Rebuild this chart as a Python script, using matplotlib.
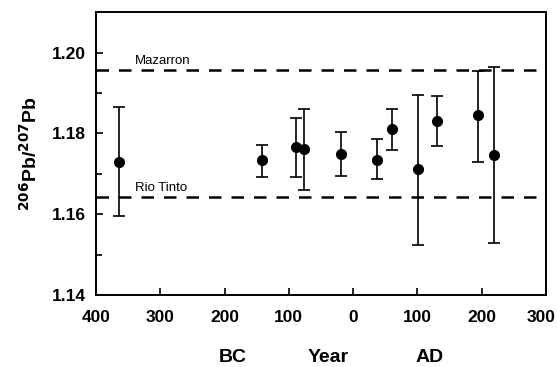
import matplotlib
matplotlib.use("Agg")
import matplotlib.pyplot as plt
import numpy as np
from matplotlib.ticker import FixedLocator

plt.rcParams['font.family'] = ['Liberation Sans', 'DejaVu Sans']

# Sample dates (negative = BC) and 206Pb/207Pb ratios with error bounds
years = [-364, -142, -89, -77, -19, 37, 61, 101, 130, 195, 219]
ratio = [1.1730, 1.1733, 1.1767, 1.1762, 1.1750, 1.1735, 1.1810, 1.1712, 1.1831, 1.1845, 1.1746]
upper = [1.1865, 1.1772, 1.1839, 1.1861, 1.1804, 1.1787, 1.1861, 1.1896, 1.1892, 1.1955, 1.1964]
lower = [1.1596, 1.1693, 1.1693, 1.1661, 1.1695, 1.1686, 1.1759, 1.1524, 1.1768, 1.1730, 1.1528]

# Ore-field reference ratios
ore_names = ["Mazarron", "Rio Tinto"]
ore_ratio = [1.1958, 1.1642]

x_ticks = [-400, -300, -200, -100, 0, 100, 200, 300]
x_ticklabels = ["400", "300", "200", "100", "0", "100", "200", "300"]
y_ticks = [1.14, 1.16, 1.18, 1.20]
y_ticklabels = ["1.14", "1.16", "1.18", "1.20"]

fig = plt.figure(figsize=(5.57, 3.67), dpi=100)
ax = fig.add_axes([0.1724, 0.196, 0.8076, 0.771])

ratio = np.array(ratio)
yerr = np.array([ratio - np.array(lower), np.array(upper) - ratio])
ax.errorbar(years, ratio, yerr=yerr, fmt='o', color='black', ms=7,
            elinewidth=1.2, capsize=4.5, capthick=1.2, zorder=3)

for name, val in zip(ore_names, ore_ratio):
    ax.axhline(val, color='black', lw=1.8, dashes=(5, 4), zorder=2)
    ax.text(-340, val + 0.0007, name, fontsize=9.5, ha='left', va='bottom')

ax.set_xlim(-400, 300)
ax.set_ylim(1.14, 1.21)
ax.xaxis.set_major_locator(FixedLocator(x_ticks))
# the last year label is drawn separately so it can hug the canvas edge
ax.set_xticklabels(x_ticklabels[:-1] + [""])
ax.yaxis.set_major_locator(FixedLocator(y_ticks))
ax.set_yticklabels(y_ticklabels)
ax.yaxis.set_minor_locator(FixedLocator([1.15, 1.17, 1.19]))

ax.tick_params(which='both', direction='in', top=False, right=False,
               labelsize=12.5, width=1.2)
ax.tick_params(which='major', length=5)
ax.tick_params(axis='x', which='major', pad=11)
ax.tick_params(axis='y', which='major', pad=7)
ax.tick_params(which='minor', length=4)
for lab in ax.get_xticklabels() + ax.get_yticklabels():
    lab.set_fontweight('bold')
ax.annotate(x_ticklabels[-1], xy=(x_ticks[-1], 0),
            xycoords=('data', 'axes fraction'), xytext=(6.8, -11),
            textcoords='offset points', ha='right', va='top',
            fontsize=12.5, fontweight='bold', annotation_clip=False)
for sp in ax.spines.values():
    sp.set_linewidth(1.4)

ax.set_ylabel(r"$^{\mathbf{206}}$Pb/$^{\mathbf{207}}$Pb", fontsize=14,
              fontweight='bold', labelpad=8)

fig.text(233 / 557, 1 - 358 / 367, "BC", fontsize=14, fontweight='bold',
         ha='center', va='center')
fig.text(328 / 557, 1 - 358 / 367, "Year", fontsize=14, fontweight='bold',
         ha='center', va='center')
fig.text(430 / 557, 1 - 358 / 367, "AD", fontsize=14, fontweight='bold',
         ha='center', va='center')

fig.savefig("out.png", dpi=100)
